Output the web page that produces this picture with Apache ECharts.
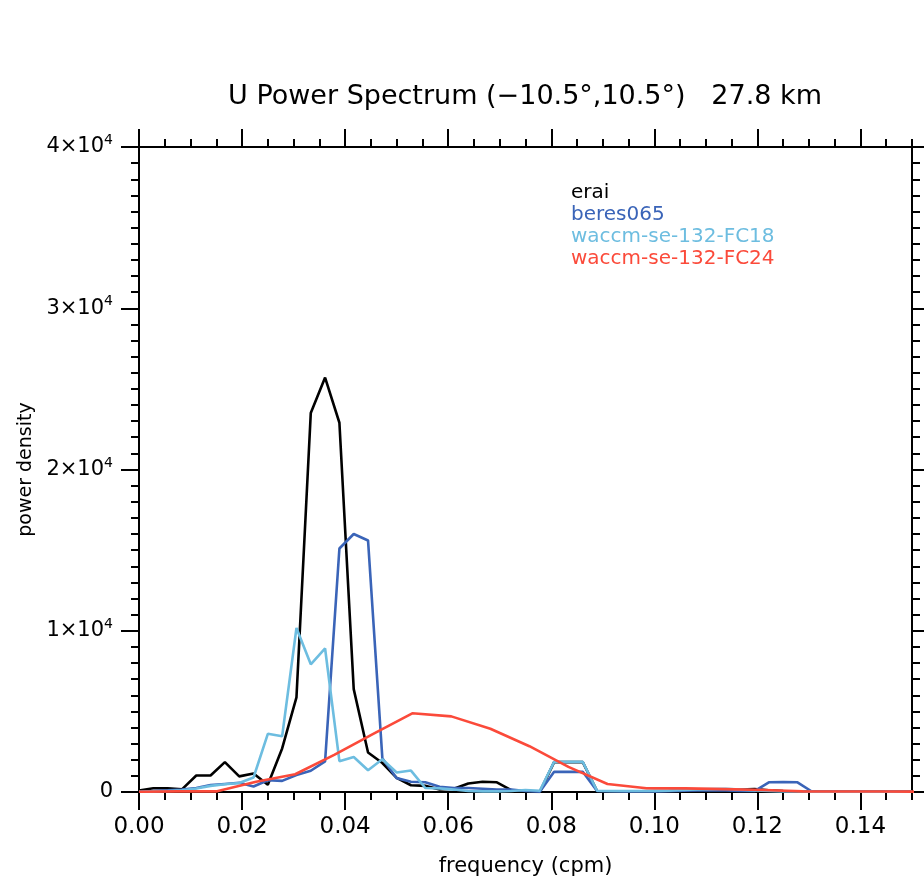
<!DOCTYPE html>
<html>
<head>
<meta charset="utf-8">
<script src="https://cdn.jsdelivr.net/npm/echarts@6/dist/echarts.min.js"></script>
<style>
  html, body { margin: 0; padding: 0; background: #fff; }
  #chart { width: 924px; height: 882px; }
</style>
</head>
<body>
<div id="chart"></div>
<script>
// Frequency grids (cycles per month)
const modelStep = 1 / 360;   // erai, beres065, FC18 spectra
const fc24Step = 1 / 132;    // coarser FC24 spectrum

const seriesNames = ['erai', 'beres065', 'waccm-se-132-FC18', 'waccm-se-132-FC24'];
const seriesColors = ['#000000', '#3a64b8', '#6dbde0', '#fb4a3a'];

const eraiValues = [
  90, 230, 230, 160, 1020, 1020, 1850, 970, 1150, 450,
  2700, 5870, 23500, 25700, 22900, 6380, 2450, 1800, 880, 420,
  380, 160, 200, 530, 640, 600, 120, 30, 10, 1850,
  1850, 1850, 60, 40, 40, 50, 60, 60, 80, 100,
  120, 120, 150, 180, 100, 60, 40, 30, 30, 30,
  30, 30, 30, 30, 30
];
const beresValues = [
  20, 60, 100, 150, 250, 430, 500, 570, 340, 730,
  690, 1050, 1320, 1900, 15100, 16000, 15600, 2100, 860, 640,
  600, 330, 250, 250, 200, 150, 150, 60, 20, 1250,
  1250, 1250, 60, 50, 40, 40, 40, 50, 80, 100,
  100, 90, 70, 60, 600, 620, 600, 30, 20, 20,
  20, 20, 20, 20, 20
];
const fc18Values = [
  20, 40, 60, 100, 220, 380, 480, 560, 900, 3610,
  3460, 10170, 7920, 8900, 1910, 2170, 1350, 2030, 1210, 1330,
  250, 225, 150, 60, 40, 40, 60, 120, 80, 1870,
  1870, 1870, 80, 60, 60, 60, 60, 80, 120, 160,
  180, 200, 150, 100, 60, 40, 30, 20, 20, 20,
  20, 20, 20, 20, 20
];
const fc24Values = [
  20, 40, 40, 640, 1100, 2300, 3600, 4880, 4690, 3920,
  2840, 1560, 500, 230, 225, 180, 120, 40, 30, 30, 20
];

// Axis ticks
const xMajorTicks = [0, 0.02, 0.04, 0.06, 0.08, 0.10, 0.12, 0.14];

const titleText = 'U Power Spectrum (\u221210.5\u00b0,10.5\u00b0)   27.8 km';
const FONT = 'DejaVu Sans';

function toPairs(values, step) {
  return values.map((v, i) => [i * step, v]);
}
const seriesData = [
  toPairs(eraiValues, modelStep),
  toPairs(beresValues, modelStep),
  toPairs(fc18Values, modelStep),
  toPairs(fc24Values, fc24Step)
];

const axisLine = { show: true, onZero: false, lineStyle: { color: '#000', width: 2 } };

function xAxisDef(position, major, withLabels) {
  const ax = {
    type: 'value', position: position, min: 0, max: 0.15,
    interval: major ? 0.02 : 0.005,
    axisLine: axisLine,
    splitLine: { show: false },
    axisTick: { show: true, inside: false, length: major ? 18 : 8, lineStyle: { color: '#000', width: 2 } },
    axisLabel: { show: false }
  };
  if (major) {
    ax.axisTick.customValues = xMajorTicks;
  }
  if (withLabels) {
    ax.axisLabel = {
      show: true, customValues: xMajorTicks, margin: 24,
      fontFamily: FONT, fontSize: 23, color: '#000',
      formatter: v => v.toFixed(2)
    };
    ax.name = 'frequency (cpm)';
    ax.nameLocation = 'middle';
    ax.nameGap = 64;
    ax.nameTextStyle = { fontFamily: FONT, fontSize: 21, color: '#000' };
  }
  return ax;
}

function yAxisDef(position, major, withLabels) {
  const ax = {
    type: 'value', position: position, min: 0, max: 40000,
    interval: major ? 10000 : 1000,
    axisLine: axisLine,
    splitLine: { show: false },
    axisTick: { show: true, inside: false, length: major ? 18 : 8, lineStyle: { color: '#000', width: 2 } },
    axisLabel: { show: false }
  };
  if (withLabels) {
    ax.axisLabel = {
      show: true, margin: 26, color: '#000',
      formatter: v => v === 0 ? '{n|0}' : '{n|' + (v / 10000) + '\u00d710}{s|4}',
      rich: {
        n: { fontFamily: FONT, fontSize: 21, color: '#000', lineHeight: 27 },
        s: { fontFamily: FONT, fontSize: 14, color: '#000', verticalAlign: 'top', lineHeight: 15 }
      }
    };
    ax.name = 'power density';
    ax.nameLocation = 'middle';
    ax.nameGap = 94;
    ax.nameRotate = 90;
    ax.nameTextStyle = { fontFamily: FONT, fontSize: 19, color: '#000' };
  }
  return ax;
}

const chart = echarts.init(document.getElementById('chart'), null, { renderer: 'canvas' });

chart.setOption({
  animation: false,
  backgroundColor: '#fff',
  grid: { left: 139, right: 12, top: 147, bottom: 85, containLabel: false },
  graphic: [{
    type: 'text',
    style: {
      text: titleText, x: 525, y: 97, align: 'center', verticalAlign: 'middle',
      fontFamily: FONT, fontSize: 27, fill: '#000'
    }
  }],
  legend: {
    orient: 'vertical', left: 561, top: 178, itemGap: 2,
    itemWidth: 0, itemHeight: 0, icon: 'none', selectedMode: false,
    textStyle: { fontFamily: FONT, fontSize: 20 },
    data: seriesNames.map((n, i) => ({ name: n, icon: 'none', textStyle: { color: seriesColors[i] } }))
  },
  xAxis: [
    xAxisDef('bottom', true, true),
    xAxisDef('bottom', false, false),
    xAxisDef('top', true, false),
    xAxisDef('top', false, false)
  ],
  yAxis: [
    yAxisDef('left', true, true),
    yAxisDef('left', false, false),
    yAxisDef('right', true, false),
    yAxisDef('right', false, false)
  ],
  series: seriesNames.map((n, i) => ({
    name: n, type: 'line', xAxisIndex: 0, yAxisIndex: 0,
    data: seriesData[i], symbol: 'none', clip: true,
    lineStyle: { color: seriesColors[i], width: 2.6 },
    itemStyle: { color: seriesColors[i] }
  }))
});
</script>
</body>
</html>
